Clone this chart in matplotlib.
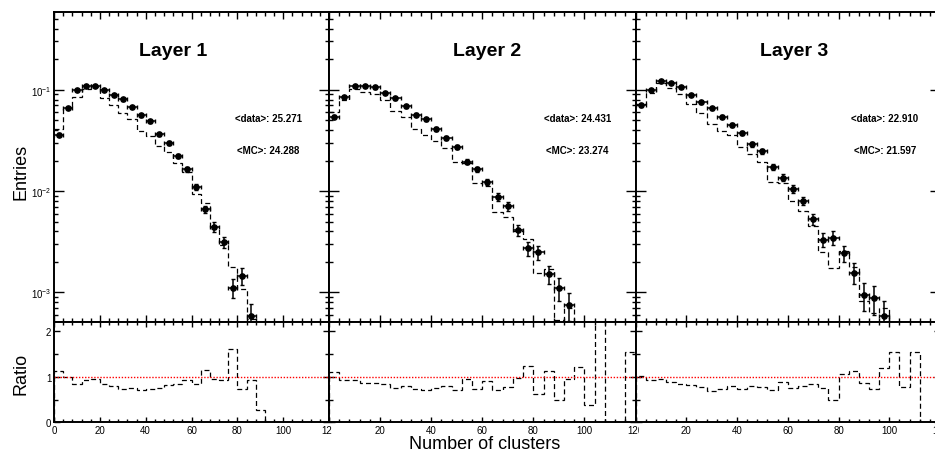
import numpy as np
import matplotlib
matplotlib.use("Agg")
import matplotlib.pyplot as plt
from matplotlib.ticker import MultipleLocator, LogLocator, NullFormatter, FixedLocator
from matplotlib.patches import Rectangle

plt.rcParams['font.family'] = ['Liberation Sans', 'DejaVu Sans']

# 30 bins of width 4 between 0 and 120
bin_edges = np.arange(0, 124, 4)

layer_names = ["Layer 1", "Layer 2", "Layer 3"]
data_means = ["25.271", "24.431", "22.910"]
mc_means = ["24.288", "23.274", "21.597"]

# normalised number of events per bin (data)
data_l1 = [0.0360, 0.0659, 0.100, 0.109, 0.110, 0.0993, 0.0893, 0.0803, 0.0679, 0.0558,
           0.0491, 0.0365, 0.0298, 0.0223, 0.0165, 0.0110, 0.00659, 0.00445, 0.00316, 0.00111,
           0.00146, 0.00059, 0.00035, 0.0001, 0, 0, 0, 0, 0, 0]
data_l2 = [0.0542, 0.0847, 0.110, 0.110, 0.1054, 0.0934, 0.0821, 0.0685, 0.0567, 0.0514,
           0.0409, 0.0334, 0.0274, 0.0195, 0.0164, 0.01236, 0.00873, 0.00711, 0.00412, 0.00272,
           0.00248, 0.00152, 0.00110, 0.00075, 0.00035, 0.0003, 0.00015, 0.0001, 0.0001, 0.0001]
data_l3 = [0.0706, 0.0992, 0.122, 0.1165, 0.107, 0.0886, 0.0750, 0.0659, 0.0542, 0.0448,
           0.0376, 0.0289, 0.0246, 0.0174, 0.01355, 0.01055, 0.00803, 0.00530, 0.00331, 0.00346,
           0.00244, 0.00157, 0.000942, 0.000873, 0.000589, 0.0003, 0.0003, 0.0002, 0.0001, 0]

# relative statistical error of the data points
err_l1 = [0.037, 0.028, 0.022, 0.021, 0.021, 0.022, 0.024, 0.025, 0.027, 0.030,
          0.032, 0.037, 0.041, 0.047, 0.055, 0.067, 0.087, 0.106, 0.126, 0.21,
          0.185, 0.29, 0.38, 0.7, 0, 0, 0, 0, 0, 0]
err_l2 = [0.035, 0.028, 0.025, 0.025, 0.025, 0.027, 0.028, 0.031, 0.034, 0.036,
          0.040, 0.045, 0.049, 0.058, 0.064, 0.073, 0.087, 0.097, 0.127, 0.157,
          0.164, 0.21, 0.25, 0.30, 0.40, 0.45, 0.6, 0.7, 0.7, 0.7]
err_l3 = [0.035, 0.030, 0.027, 0.027, 0.028, 0.031, 0.033, 0.036, 0.039, 0.043,
          0.047, 0.054, 0.058, 0.069, 0.078, 0.088, 0.10, 0.125, 0.16, 0.155,
          0.185, 0.23, 0.30, 0.31, 0.38, 0.45, 0.5, 0.6, 0.7, 0]

# MC / data ratio per bin
ratio_l1 = [1.13, 1.00, 0.85, 0.93, 0.96, 0.84, 0.79, 0.73, 0.76, 0.70,
            0.72, 0.76, 0.81, 0.84, 0.93, 0.85, 1.15, 0.94, 0.92, 1.61,
            0.74, 0.93, 0.26, 0, 0, 0, 0, 0, 0, 0]
ratio_l2 = [1.11, 0.93, 0.92, 0.87, 0.87, 0.84, 0.76, 0.79, 0.73, 0.70,
            0.76, 0.79, 0.71, 0.96, 0.73, 0.91, 0.71, 0.78, 0.98, 1.24,
            0.63, 1.13, 0.48, 0.94, 1.22, 0.37, 3.0, 0, 0, 1.54]
ratio_l3 = [1.02, 0.93, 0.96, 0.89, 0.84, 0.81, 0.78, 0.69, 0.73, 0.79,
            0.72, 0.80, 0.78, 0.70, 0.89, 0.75, 0.79, 0.85, 0.76, 0.50,
            1.05, 1.13, 0.87, 0.72, 1.20, 1.54, 0.78, 1.54, 0, 0]

PX = 72.0 / 100  # pixels -> points at dpi 100


def style_axes(ax, ratio=False):
    for sp in ax.spines.values():
        sp.set_linewidth(1.4)
    ax.set_xlim(0, 120)
    ax.xaxis.set_major_locator(MultipleLocator(20))
    ax.xaxis.set_minor_locator(MultipleLocator(4))
    ax.tick_params(which='both', direction='in', top=True, right=True,
                   width=1.0, labelsize=7, pad=2)
    if ratio:
        ax.tick_params(axis='x', which='major', length=5 * PX)
        ax.tick_params(axis='x', which='minor', length=3 * PX)
        ax.tick_params(axis='y', which='major', length=6 * PX)
        ax.tick_params(axis='y', which='minor', length=4 * PX)
    else:
        ax.tick_params(axis='x', which='major', length=7 * PX)
        ax.tick_params(axis='x', which='minor', length=4 * PX)
        ax.tick_params(axis='y', which='major', length=10 * PX)
        ax.tick_params(axis='y', which='minor', length=4 * PX)


def draw_layer(ax, axr, data, err, ratio, name, dmean, mmean, title_x, stat_x, first):
    data = np.array(data)
    err = np.array(err)
    ratio = np.array(ratio)
    centers = 0.5 * (bin_edges[1:] + bin_edges[:-1])
    mc = data * ratio

    # top: MC histogram + data points
    ax.set_yscale('log', nonpositive='clip')
    ax.stairs(mc, bin_edges, baseline=None, color='black', lw=0.9,
              linestyle=(0, (4, 2.5)))
    ok = data > 0
    ax.errorbar(centers[ok], data[ok], xerr=2, yerr=data[ok] * err[ok], fmt='o',
                color='black', ms=3.8, elinewidth=1.1, capsize=1.5, capthick=1.0)
    ax.set_ylim(5.1e-4, 0.59)
    style_axes(ax)
    ax.yaxis.set_major_locator(LogLocator(base=10))
    ax.yaxis.set_minor_locator(LogLocator(base=10, subs=np.arange(2, 10)))
    ax.yaxis.set_minor_formatter(NullFormatter())
    ax.tick_params(axis='x', labelbottom=False)
    if not first:
        ax.tick_params(axis='y', which='both', labelleft=False)

    tr = ax.get_xaxis_transform()
    ax.text(title_x, 0.875, name, transform=tr, ha='center', va='center',
            fontsize=14, fontweight='bold')
    ax.text(stat_x, 0.657, "<data>: " + dmean, transform=tr, ha='center', va='center',
            fontsize=7, fontweight='bold')
    ax.text(stat_x, 0.553, "<MC>: " + mmean, transform=tr, ha='center', va='center',
            fontsize=7, fontweight='bold')

    # bottom: ratio
    axr.stairs(ratio, bin_edges, baseline=0, color='black', lw=0.9,
               linestyle=(0, (4, 2.5)))
    axr.axhline(1.0, color='red', lw=1.0, linestyle=(0, (1, 1.2)))
    axr.set_ylim(0, 2.2)
    style_axes(axr, ratio=True)
    axr.yaxis.set_major_locator(FixedLocator([0, 1, 2]))
    axr.yaxis.set_minor_locator(MultipleLocator(0.5))
    axr.set_xticks(range(0, 121, 20))
    labels = [str(v) for v in range(0, 121, 20)]
    if not first:
        labels[0] = ''
        axr.tick_params(axis='y', which='both', labelleft=False)
    axr.set_xticklabels(labels)


def main():
    fig = plt.figure(figsize=(9.35, 4.56), dpi=100)
    W, H = 935.0, 456.0
    top_b, top_h = (H - 323) / H, (323 - 12.7) / H
    rat_b, rat_h = (H - 423.3) / H, (423.3 - 323) / H
    lefts = [54, 329, 635.5]
    rights = [329, 635.5, 940]

    all_data = [data_l1, data_l2, data_l3]
    all_err = [err_l1, err_l2, err_l3]
    all_ratio = [ratio_l1, ratio_l2, ratio_l3]
    title_xs = [52, 61.8, 62.4]
    stat_xs = [93.6, 97.3, 98.2]

    for i in range(3):
        l = lefts[i] / W
        w = (rights[i] - lefts[i]) / W
        ax = fig.add_axes([l, top_b, w, top_h])
        axr = fig.add_axes([l, rat_b, w, rat_h])
        draw_layer(ax, axr, all_data[i], all_err[i], all_ratio[i], layer_names[i],
                   data_means[i], mc_means[i], title_xs[i], stat_xs[i], i == 0)

    # the next pad hides the trailing "0" of the "120" labels
    for x0 in [332, 638.5]:
        fig.add_artist(Rectangle((x0 / W, (H - 440) / H), 13 / W, 15 / H,
                                 transform=fig.transFigure, color='white', zorder=10))

    fig.text(21 / W, (H - 172) / H, "Entries", rotation=90, ha='center', va='center', fontsize=13)
    fig.text(21 / W, (H - 374) / H, "Ratio", rotation=90, ha='center', va='center', fontsize=13)
    fig.text(485 / W, (H - 445) / H, "Number of clusters", ha='center', va='center', fontsize=13)

    fig.savefig("out.png", dpi=100)


if __name__ == '__main__':
    main()
